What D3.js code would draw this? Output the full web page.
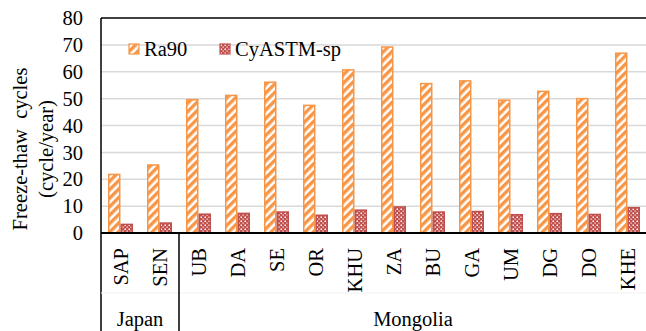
<!DOCTYPE html>
<html><head><meta charset="utf-8">
<script src="https://cdn.jsdelivr.net/npm/d3@7"></script>
<style>
html,body{margin:0;padding:0;background:#fff;}
svg{display:block;}
</style></head>
<body><svg id="chart" width="646" height="331"></svg>
<script>
const categories = ["SAP","SEN","UB","DA","SE","OR","KHU","ZA","BU","GA","UM","DG","DO","KHE"];
const groups = [{name:"Japan", count:2},{name:"Mongolia", count:12}];
const seriesNames = ["Ra90","CyASTM-sp"];
const ra90 = [21.8,25.3,49.6,51.2,56.1,47.5,60.7,69.2,55.6,56.6,49.4,52.7,50.0,66.9];
const cyastm = [3.2,3.7,7.0,7.3,7.8,6.6,8.5,9.7,7.8,8.0,6.8,7.2,6.9,9.4];
const yTicks = [0,10,20,30,40,50,60,70,80];
const yTitle = ["Freeze-thaw\u00a0\u00a0cycles","(cycle/year)"];

const svg = d3.select("#chart")
  .attr("font-family","'Liberation Serif', Tinos, 'Times New Roman', Times, 'DejaVu Serif', serif");
const L = 101, R = 647, T = 18, B = 233;
const FS = 20.5;
const orange = "#F79646", red = "#C0504D";

const defs = svg.append("defs");
const p1 = defs.append("pattern").attr("id","pOrange").attr("patternUnits","userSpaceOnUse")
  .attr("width",6).attr("height",6).attr("patternTransform","rotate(45)");
p1.append("rect").attr("width",6).attr("height",6).attr("fill","#fff");
p1.append("rect").attr("width",3.4).attr("height",6).attr("fill",orange);
const p2 = defs.append("pattern").attr("id","pRed").attr("patternUnits","userSpaceOnUse")
  .attr("width",4).attr("height",4);
p2.append("rect").attr("width",4).attr("height",4).attr("fill",red);
p2.append("rect").attr("x",0.5).attr("y",0.5).attr("width",1.5).attr("height",1.5).attr("fill","#fff");
p2.append("rect").attr("x",2.5).attr("y",2.5).attr("width",1.2).attr("height",1.2).attr("fill","#fff");

const y = d3.scaleLinear().domain([0,80]).range([B,T]);
const x0 = d3.scaleBand().domain(categories).range([L,R]).paddingInner(0).paddingOuter(0);
const x1 = d3.scaleBand().domain(seriesNames).range([7, x0.bandwidth()-7]).padding(0);

// gridlines
svg.append("g").selectAll("line").data(yTicks.filter(t=>t>0 && t<80)).join("line")
  .attr("x1",L).attr("x2",R).attr("y1",d=>y(d)).attr("y2",d=>y(d))
  .attr("stroke","#d9d9d9").attr("stroke-width",1.5);

// y tick labels
svg.append("g").selectAll("text").data(yTicks).join("text")
  .attr("x",83).attr("y",d=>y(d)).attr("dy","0.35em").attr("text-anchor","end")
  .attr("font-size",FS).text(d=>d);

// y title
yTitle.forEach((t,i)=>{
  svg.append("text").attr("transform",`translate(${[20,46][i]},${149}) rotate(-90)`)
    .attr("text-anchor","middle").attr("dy","0.35em").attr("font-size",FS).text(t);
});

// bars
const data = categories.map((c,i)=>({c, vals:[{s:seriesNames[0],v:ra90[i]},{s:seriesNames[1],v:cyastm[i]}]}));
const gBars = svg.append("g");
data.forEach(d=>{
  d.vals.forEach(b=>{
    const isO = b.s===seriesNames[0];
    gBars.append("rect")
      .attr("x", x0(d.c)+x1(b.s)+0.75)
      .attr("y", y(b.v))
      .attr("width", x1.bandwidth()-1.5)
      .attr("height", y(0)-y(b.v))
      .attr("fill", isO?"url(#pOrange)":"url(#pRed)")
      .attr("stroke", isO?orange:red).attr("stroke-width",1.5);
  });
});

// frame
svg.append("line").attr("x1",L).attr("x2",R).attr("y1",T).attr("y2",T).attr("stroke","#000").attr("stroke-width",1.5);
svg.append("line").attr("x1",L).attr("x2",R).attr("y1",B).attr("y2",B).attr("stroke","#000").attr("stroke-width",2);
svg.append("line").attr("x1",L).attr("x2",L).attr("y1",T).attr("y2",331).attr("stroke","#000").attr("stroke-width",1.5);
svg.append("line").attr("x1",L).attr("x2",R).attr("y1",293).attr("y2",293).attr("stroke","#f2f2f2").attr("stroke-width",1);

// category labels
svg.append("g").selectAll("text").data(categories).join("text")
  .attr("transform",d=>`translate(${x0(d)+x0.bandwidth()/2},248) rotate(-90)`)
  .attr("text-anchor","end").attr("dy","0.35em").attr("font-size",FS).text(d=>d);

// group labels and separators
let idx = 0;
groups.forEach((g,i)=>{
  const start = x0(categories[idx]);
  const endCat = categories[idx+g.count-1];
  const endFull = x0(endCat)+x0.bandwidth();
  svg.append("text").attr("x",(start+endFull)/2).attr("y",326).attr("text-anchor","middle")
    .attr("font-size",FS).text(g.name);
  if(i<groups.length-1){
    svg.append("line").attr("x1",endFull).attr("x2",endFull).attr("y1",B).attr("y2",331)
      .attr("stroke","#000").attr("stroke-width",1.5);
  }
  idx += g.count;
});

// legend
const legend = [{name:seriesNames[0],x:129,fill:"url(#pOrange)",stroke:orange},
                {name:seriesNames[1],x:220,fill:"url(#pRed)",stroke:red}];
legend.forEach(l=>{
  svg.append("rect").attr("x",l.x).attr("y",44).attr("width",10).attr("height",10)
    .attr("fill",l.fill).attr("stroke",l.stroke).attr("stroke-width",1.2);
  svg.append("text").attr("x",l.x+15).attr("y",49).attr("dy","0.35em").attr("font-size",FS).text(l.name);
});
</script></body></html>
